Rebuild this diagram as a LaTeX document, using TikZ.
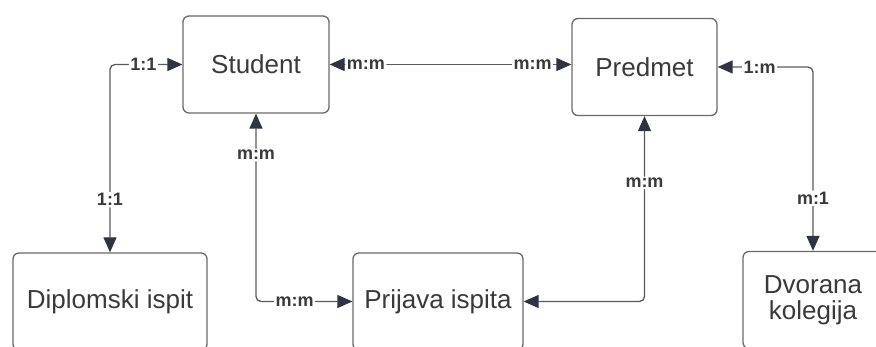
\documentclass[tikz,border=0pt]{standalone}
\usepackage{fontspec}
\setmainfont{Liberation Sans}
\usetikzlibrary{arrows.meta}
\definecolor{boxline}{HTML}{6A6A6A}
\definecolor{txt}{HTML}{3A3A3A}
\definecolor{conn}{HTML}{5A5A5A}
\definecolor{tipc}{HTML}{2F3440}
\tikzset{
  entity/.style={draw=boxline, line width=1.3pt, rounded corners=6pt, fill=white,
    minimum width=#1, minimum height=97pt, inner sep=0pt, text=txt,
    font=\fontsize{26}{27}\selectfont, align=center},
  entity/.default=146pt,
  link/.style={draw=conn, line width=1.3pt, rounded corners=5pt,
    {Triangle[length=15pt,width=13pt,fill=tipc,color=tipc]}-{Triangle[length=15pt,width=13pt,fill=tipc,color=tipc]}},
  card/.style={fill=white, inner sep=1.5pt, text=txt, font=\fontsize{18}{19}\bfseries\selectfont}
}
\begin{document}
\begin{tikzpicture}[x=1pt,y=-1pt]
\useasboundingbox (0,0) rectangle (876,347);
\begin{scope}
\clip (0,0) rectangle (876,347);
\node[entity=146pt] (stu) at (256,64.5) {Student};
\node[entity=145pt] (pre) at (644.5,67) {Predmet};
\node[entity=194pt] (dip) at (110,301.5) {Diplomski ispit};
\node[entity=170pt] (pri) at (438,301.5) {Prijava ispita};
\node[entity=140pt] (dvo) at (813,300) {Dvorana\\[-1pt]kolegija};

\draw[link] (stu.west) -| node[card,pos=0.27] (l1) {1:1} node[card,pos=0.86] (l2) {1:1} (dip.north);
\draw[link] (stu.east) -- node[card,pos=0.15] (l3) {m:m} node[card,pos=0.84] (l4) {m:m} (stu.east -| pre.west);
\draw[link] (stu.south) |- node[card,pos=0.11] (l5) {m:m} node[card,pos=0.70] (l6) {m:m} (pri.west);
\draw[link] (pre.south) |- node[card,pos=0.18] (l7) {m:m} (pri.east);
\draw[link] (pre.east) -| node[card,pos=0.22] (l8) {1:m} node[card,pos=0.857] (l9) {m:1} (dvo.north);
\end{scope}
\end{tikzpicture}
\end{document}
